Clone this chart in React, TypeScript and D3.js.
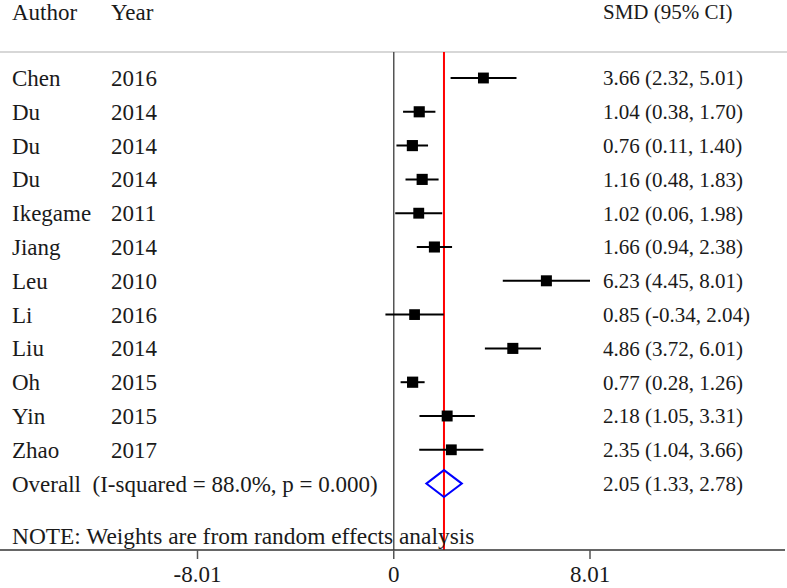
import React from "react";
import * as d3 from "d3";

const authors = ["Chen", "Du", "Du", "Du", "Ikegame", "Jiang", "Leu", "Li", "Liu", "Oh", "Yin", "Zhao"];
const years = ["2016", "2014", "2014", "2014", "2011", "2014", "2010", "2016", "2014", "2015", "2015", "2017"];
const smd = [3.66, 1.04, 0.76, 1.16, 1.02, 1.66, 6.23, 0.85, 4.86, 0.77, 2.18, 2.35];
const lower = [2.32, 0.38, 0.11, 0.48, 0.06, 0.94, 4.45, -0.34, 3.72, 0.28, 1.05, 1.04];
const upper = [5.01, 1.70, 1.40, 1.83, 1.98, 2.38, 8.01, 2.04, 6.01, 1.26, 3.31, 3.66];
const weights = [8.2, 8.6, 8.6, 8.6, 8.2, 8.5, 8.4, 8.0, 8.5, 8.7, 8.3, 8.1];
const overall = { label: "Overall  (I-squared = 88.0%, p = 0.000)", est: 2.05, lo: 1.33, hi: 2.78 };
const tickValues = [-8.01, 0, 8.01];
const tickLabels = ["-8.01", "0", "8.01"];
const note = "NOTE: Weights are from random effects analysis";

const fmt = (v: number) => v.toFixed(2);
const ciText = (e: number, l: number, u: number) => `${fmt(e)} (${fmt(l)}, ${fmt(u)})`;

export default function App() {
  const W = 787, H = 588;
  const x = d3.scaleLinear().domain([-8.01, 8.01]).range([197.5, 590]);
  const y = d3.scaleLinear().domain([0, 1]).range([78, 111.8]);
  const size = d3.scaleSqrt().domain([0, 8.4]).range([0, 11]);
  const font = "'Liberation Serif', serif";
  const fs = 23;
  const fsNum = 21;
  const ink = "#1a1a1a";
  const topLineY = 52;
  const axisY = 550;
  const rowsIdx = d3.range(authors.length);
  const oy = y(authors.length);
  const dh = 13.5;
  const diamond = d3.line()([
    [x(overall.lo), oy],
    [x(overall.est), oy - dh],
    [x(overall.hi), oy],
    [x(overall.est), oy + dh],
  ]) + "Z";

  return (
    <svg width={W} height={H} style={{ position: "absolute", left: 0, top: 0, background: "#fff" }} fontFamily={font}>
      <rect width={W} height={H} fill="#fff" />
      {/* headers */}
      <g fontSize={fs} fill={ink}>
        <text x={12} y={12} dy="0.35em">Author</text>
        <text x={111} y={12} dy="0.35em">Year</text>
        <text x={603} y={12} dy="0.35em" fontSize={fsNum}>SMD (95% CI)</text>
      </g>
      <line x1={0} x2={787} y1={topLineY} y2={topLineY} stroke="#b0b0b0" strokeWidth={1.2} />
      {/* reference lines */}
      <line x1={x(0)} x2={x(0)} y1={topLineY} y2={axisY} stroke="#555" strokeWidth={1.5} />
      <line x1={x(overall.est)} x2={x(overall.est)} y1={topLineY} y2={axisY} stroke="#ff0000" strokeWidth={2} />
      {/* rows */}
      {rowsIdx.map((i) => {
        const s = size(weights[i]);
        return (
          <g key={i}>
            <text x={12} y={y(i)} dy="0.35em" fontSize={fs} fill={ink}>{authors[i]}</text>
            <text x={111} y={y(i)} dy="0.35em" fontSize={fs} fill={ink}>{years[i]}</text>
            <text x={603} y={y(i)} dy="0.35em" fontSize={fsNum} fill={ink}>{ciText(smd[i], lower[i], upper[i])}</text>
            <line x1={x(lower[i])} x2={x(upper[i])} y1={y(i)} y2={y(i)} stroke="#000" strokeWidth={2} />
            <rect x={x(smd[i]) - s / 2} y={y(i) - s / 2} width={s} height={s} fill="#000" />
          </g>
        );
      })}
      {/* overall */}
      <text x={12} y={oy} dy="0.35em" fontSize={fs} fill={ink} style={{ whiteSpace: "pre" }}>{overall.label}</text>
      <text x={603} y={oy} dy="0.35em" fontSize={fsNum} fill={ink}>{ciText(overall.est, overall.lo, overall.hi)}</text>
      <path d={diamond} fill="none" stroke="#0000ff" strokeWidth={2} />
      {/* note */}
      <text x={12} y={536} dy="0.35em" fontSize={23.4} fill={ink}>{note}</text>
      {/* axis */}
      <line x1={0} x2={785} y1={axisY} y2={axisY} stroke="#333" strokeWidth={1.5} />
      {tickValues.map((t, i) => (
        <g key={i}>
          <line x1={x(t)} x2={x(t)} y1={axisY} y2={axisY + 9} stroke="#555" strokeWidth={1.5} />
          <text x={x(t)} y={582} textAnchor="middle" fontSize={fs} fill={ink}>{tickLabels[i]}</text>
        </g>
      ))}
    </svg>
  );
}
